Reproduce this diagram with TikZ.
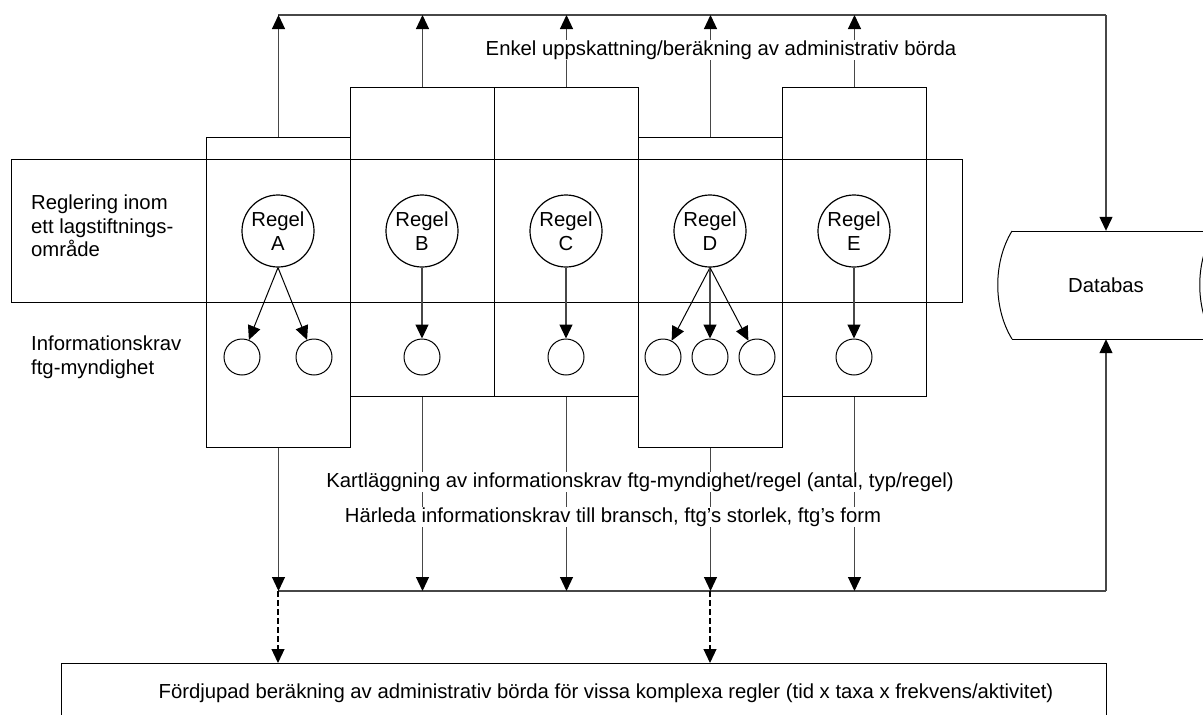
\documentclass[tikz,border=0pt]{standalone}
\usepackage{fontspec}
\setmainfont{Liberation Sans}
\usetikzlibrary{arrows.meta}
\begin{document}
\begin{tikzpicture}[x=1pt,y=-1pt,
  font=\fontsize{20.3}{23.5}\selectfont,
  frame/.style={draw=black,line width=1pt,inner sep=0pt,anchor=north west},
  column/.style={frame,minimum width=144pt},
  rule/.style={draw=black,line width=1.2pt,circle,inner sep=0pt,minimum size=72pt,align=center,fill=white},
  req/.style={draw=black,line width=1pt,circle,inner sep=0pt,minimum size=36pt},
  conn/.style={draw=black!72,line width=1.2pt},
  arr/.style={conn,-{Triangle[length=14pt,width=13pt,color=black]}},
  label/.style={align=left,anchor=west,inner sep=0pt},
  over/.style={fill=white,inner sep=1pt}]
\useasboundingbox (0,0) rectangle (1203,715);

% legislative band and the five rule columns
\node[frame,minimum width=951pt,minimum height=143pt] (band) at (11,159) {};
\node[column,minimum height=310pt] (colA) at (206,137) {};
\node[column,minimum height=309pt] (colB) at (350,87) {};
\node[column,minimum height=309pt] (colC) at (494,87) {};
\node[column,minimum height=310pt] (colD) at (638,137) {};
\node[column,minimum height=309pt] (colE) at (782,87) {};

% row labels
\node[label] (lblReg) at (31,226) {Reglering inom\\ett lagstiftnings-\\område};
\node[label] (lblInfo) at (31,357) {Informationskrav\\ftg-myndighet};

% rules
\node[rule] (rA) at (278,231) {Regel\\A};
\node[rule] (rB) at (422,231) {Regel\\B};
\node[rule] (rC) at (566,231) {Regel\\C};
\node[rule] (rD) at (710,231) {Regel\\D};
\node[rule] (rE) at (854,231) {Regel\\E};

% information requirements
\node[req] (a1) at (242,357) {};
\node[req] (a2) at (314,357) {};
\node[req] (b1) at (422,357) {};
\node[req] (c1) at (566,357) {};
\node[req] (d1) at (663,357) {};
\node[req] (d2) at (710,357) {};
\node[req] (d3) at (757,357) {};
\node[req] (e1) at (854,357) {};

\draw[arr,draw=black,line width=1pt] (rA.south) -- (a1);
\draw[arr,draw=black,line width=1pt] (rA.south) -- (a2);
\draw[arr] (rB.south) -- (b1);
\draw[arr] (rC.south) -- (c1);
\draw[arr,draw=black,line width=1pt] (rD.south) -- (d1);
\draw[arr] (rD.south) -- (d2);
\draw[arr,draw=black,line width=1pt] (rD.south) -- (d3);
\draw[arr] (rE.south) -- (e1);

% database
\node[minimum width=10pt,minimum height=108pt,inner sep=0pt] (db) at (1106,285) {Databas};
\draw[line width=1pt] (1012,231) -- (1230,231);
\draw[line width=1pt] (1012,339) -- (1230,339);
\draw[line width=1pt] (1012,231) .. controls (993,262) and (993,308) .. (1012,339);
\draw[line width=1pt] (1214,231) .. controls (1195,262) and (1195,308) .. (1214,339);

% simple estimate: upward flow to the top line and on to the database
\coordinate (topL) at (278,15);
\coordinate (topR) at (1106,15);
\draw[conn] (topL) -- (topR);
\draw[arr] (topR) -- (db.north);
\draw[arr] (colA.north) -- (colA.north |- topL);
\draw[arr] (colB.north) -- (colB.north |- topL);
\draw[arr] (colC.north) -- (colC.north |- topL);
\draw[arr] (colD.north) -- (colD.north |- topL);
\draw[arr] (colE.north) -- (colE.north |- topL);

% mapping: downward flow to the collecting line and up to the database
\coordinate (botL) at (278,591);
\coordinate (botM) at (710,591);
\coordinate (botR) at (1106,591);
\draw[conn] (botL) -- (botR);
\draw[arr] (botR) -- (db.south);
\draw[arr] (colA.south) -- (colA.south |- botL);
\draw[arr] (colB.south) -- (colB.south |- botL);
\draw[arr] (colC.south) -- (colC.south |- botL);
\draw[arr] (colD.south) -- (colD.south |- botL);
\draw[arr] (colE.south) -- (colE.south |- botL);

% detailed calculation
\node[frame,minimum width=1045pt,minimum height=120pt] (deep) at (61,663) {};
\draw[arr,draw=black,dash pattern=on 6pt off 3pt] (botL) -- (botL |- deep.north);
\draw[arr,draw=black,dash pattern=on 6pt off 3pt] (botM) -- (botM |- deep.north);
\node (deepTxt) at (606,693) {Fördjupad beräkning av administrativ börda för vissa komplexa regler (tid x taxa x frekvens/aktivitet)};

% flow captions
\node[over] (capTop) at (721,50) {Enkel uppskattning/beräkning av administrativ börda};
\node[over] (capMap) at (640,482) {Kartläggning av informationskrav ftg-myndighet/regel (antal, typ/regel)};
\node[over] (capDer) at (613,517) {Härleda informationskrav till bransch, ftg’s storlek, ftg’s form};
\end{tikzpicture}
\end{document}
